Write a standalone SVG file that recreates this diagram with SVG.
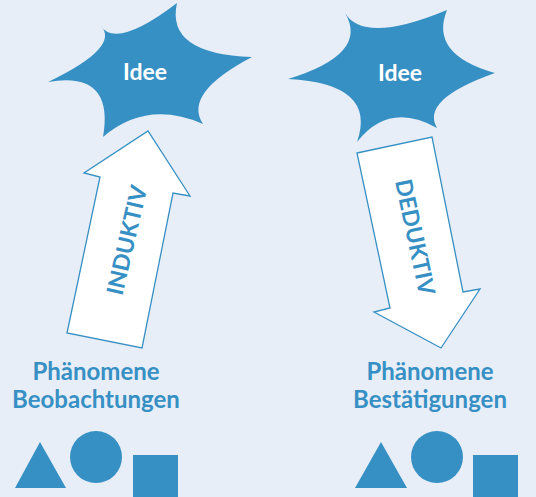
<svg xmlns="http://www.w3.org/2000/svg" width="536" height="497" viewBox="0 0 536 497">
<style>
.blue{fill:#3790c4}
.star-label{font-family:Lato,"Open Sans",sans-serif;font-weight:700;font-size:23px;fill:#ffffff;text-anchor:middle}
.arrow{fill:#ffffff;stroke:#3790c4;stroke-width:1.3;stroke-linejoin:miter}
.arrow-label{font-family:Lato,"Open Sans",sans-serif;font-weight:700;font-size:23px;fill:#3790c4;text-anchor:middle;dominant-baseline:central}
.label{font-family:Lato,"Open Sans",sans-serif;font-weight:700;font-size:24px;fill:#3790c4;text-anchor:middle}
</style>
<rect width="536" height="497" fill="#e8eef8"/>
<g id="idee-left">
<path class="blue" d="M100,25 Q115.5,50 177,3 Q165.5,54 252,57 Q182.5,93.5 203,124 Q147,99.5 103,137 Q114.5,70.5 48,82 Q122,46.5 100,25 Z"/>
<text class="star-label" x="145" y="80">Idee</text>
</g>
<g id="idee-right">
<path class="blue" d="M345,13 Q364,44.5 447,10 Q429,54.5 495,73 Q420,99.5 437,128 Q389,101 357,142 Q377.5,83.5 288,79 Q369.5,54 345,13 Z"/>
<text class="star-label" x="400" y="81">Idee</text>
</g>
<g id="connectors">
<g id="arrow-induktiv">
<path class="arrow" d="M67,333 L100,177 L84,173 L148,131 L190,196 L173,193 L142,348 Z"/>
<text class="arrow-label" transform="translate(126,240) rotate(-77)">INDUKTIV</text>
</g>
<g id="arrow-deduktiv">
<path class="arrow" d="M357,153 L432,137 L463,292 L480,289 L441,348 L374,312 L390,308 Z"/>
<text class="arrow-label" transform="translate(416,237) rotate(78)">DEDUKTIV</text>
</g>
</g>
<g id="phaenomene-left">
<text class="label" x="96" y="380">Phänomene</text>
<text class="label" x="96" y="408">Beobachtungen</text>
</g>
<g id="phaenomene-right">
<text class="label" x="430" y="380">Phänomene</text>
<text class="label" x="430" y="408">Bestätigungen</text>
</g>
<g id="shapes-left">
<polygon class="blue" points="15,488 66,488 40,442"/>
<circle class="blue" cx="96" cy="457" r="26"/>
<rect class="blue" x="133" y="455" width="45" height="45"/>
</g>
<g id="shapes-right">
<polygon class="blue" points="355,488 407,488 381,442"/>
<circle class="blue" cx="437" cy="457" r="26"/>
<rect class="blue" x="473" y="455" width="45" height="45"/>
</g>
</svg>
